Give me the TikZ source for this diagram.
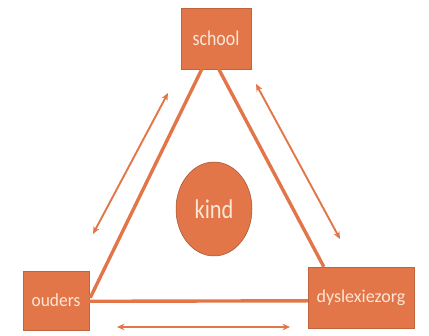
\documentclass[tikz,border=0pt]{standalone}
\usepackage{fontspec}
\usepackage{graphicx}
\setmainfont{Carlito}
\usetikzlibrary{arrows.meta,calc,shapes.geometric}
\definecolor{boxor}{RGB}{226,118,72}
\definecolor{txtcr}{RGB}{252,230,214}
\tikzset{
  box/.style={draw=boxor!85!black, line width=0.4pt, fill=boxor, text=txtcr, inner sep=0pt, font=\fontsize{18}{20}\selectfont},
  tri/.style={draw=boxor, line width=3.4pt},
  dbl/.style={draw=boxor, line width=1.9pt, {Stealth[length=7.5pt,width=6.5pt]}-{Stealth[length=7.5pt,width=6.5pt]}}
}
\begin{document}
\begin{tikzpicture}[x=1pt,y=-1pt]
\useasboundingbox (0,0) rectangle (429,336);
\node[box, minimum width=70pt, minimum height=61pt, font=\fontsize{21}{23}\selectfont] (school) at (216,38.5) {\scalebox{0.85}[1]{school}};
\node[box, minimum width=66pt, minimum height=59pt, font=\fontsize{18.5}{20}\selectfont] (ouders) at (56,300.5) {\scalebox{0.94}[1]{ouders}};
\node[box, minimum width=106pt, minimum height=61pt] (dys) at (361,297.5) {dyslexiezorg};
\node[ellipse, draw=boxor!70!black, line width=0.5pt, fill=boxor, text=txtcr, minimum width=76pt, minimum height=94pt, inner sep=0pt, font=\fontsize{27}{29}\selectfont] (kind) at (214,209) {\scalebox{0.83}[1]{kind}};
% triangle anchor points
\coordinate (s1) at ($(school.south west)+(21,0)$);
\coordinate (s2) at ($(school.south west)+(38,0)$);
\coordinate (o1) at ($(ouders.north east)+(1,27)$);
\coordinate (o2) at ($(ouders.north east)+(0,30.5)$);
\coordinate (d1) at ($(dys.north west)+(16,0)$);
\coordinate (d2) at ($(dys.north west)+(0,34)$);
\draw[tri] (s1) -- (o1);
\draw[tri] (s2) -- (d1);
\draw[tri] (o2) -- (d2);
% arrows
\coordinate (la1) at (168,93);
\coordinate (la2) at (93,234);
\coordinate (ra1) at (256,84);
\coordinate (ra2) at (340,239);
\coordinate (ba1) at (117,327);
\coordinate (ba2) at (290,327);
\draw[dbl] (la1) -- (la2);
\draw[dbl] (ra1) -- (ra2);
\draw[dbl] (ba1) -- (ba2);
\end{tikzpicture}
\end{document}
